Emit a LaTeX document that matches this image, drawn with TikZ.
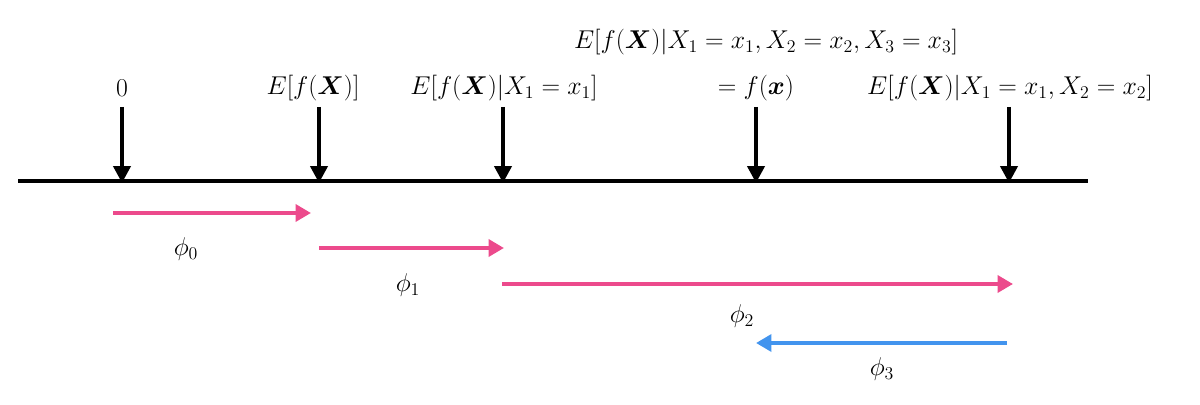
\documentclass[tikz,border=0pt]{standalone}
\usepackage{amsmath,bm,graphicx}
\usetikzlibrary{arrows.meta}
\definecolor{pinkc}{RGB}{236,74,140}
\definecolor{bluec}{RGB}{66,148,238}
\newcommand{\myscl}[1]{\scalebox{1.06}{#1}}
\begin{document}
\begin{tikzpicture}[x=0.025cm,y=-0.025cm,
  lbl/.style={inner sep=0pt,font=\fontsize{17}{20}\selectfont},
  tick/.style={line width=2.9pt,-{Triangle[length=12pt,width=12pt]}},
  contrib/.style={line width=3.4pt,-{Triangle[length=11pt,width=12pt]}}]
\useasboundingbox (0,0) rectangle (1200,405);
% axis
\coordinate (A0) at (18,181);
\coordinate (A1) at (1088,181);
\draw[line width=3.3pt] (A0) -- (A1);
% tick points
\foreach \n/\x in {t0/122,t1/319,t2/503,t3/756,t4/1009}{
  \coordinate (\n s) at (\x,107);
  \coordinate (\n e) at (\x,183);
  \draw[tick] (\n s) -- (\n e);
}
% labels
\node[lbl] (l0) at (122,88) {\myscl{$0$}};
\node[lbl] (l1) at (313,88) {\myscl{$E[f(\bm{X})]$}};
\node[lbl] (l2) at (504,88) {\myscl{$E[f(\bm{X})|X_1=x_1]$}};
\node[lbl] (l3) at (756,88) {\myscl{$=f(\bm{x})$}};
\node[lbl] (l4) at (1010,88) {\myscl{$E[f(\bm{X})|X_1=x_1,X_2=x_2]$}};
\node[lbl] (l5) at (766,42) {\myscl{$E[f(\bm{X})|X_1=x_1,X_2=x_2,X_3=x_3]$}};
% contributions
\coordinate (p0s) at (113,213); \coordinate (p0e) at (311,213);
\coordinate (p1s) at (319,248); \coordinate (p1e) at (504,248);
\coordinate (p2s) at (502,284); \coordinate (p2e) at (1013,284);
\coordinate (p3s) at (1007,343); \coordinate (p3e) at (756,343);
\draw[contrib,pinkc] (p0s) -- (p0e);
\draw[contrib,pinkc] (p1s) -- (p1e);
\draw[contrib,pinkc] (p2s) -- (p2e);
\draw[contrib,bluec] (p3s) -- (p3e);
\node[lbl] (f0) at (186,249) {\myscl{$\phi_0$}};
\node[lbl] (f1) at (408,285) {\myscl{$\phi_1$}};
\node[lbl] (f2) at (742,316) {\myscl{$\phi_2$}};
\node[lbl] (f3) at (882,369) {\myscl{$\phi_3$}};
\end{tikzpicture}
\end{document}
